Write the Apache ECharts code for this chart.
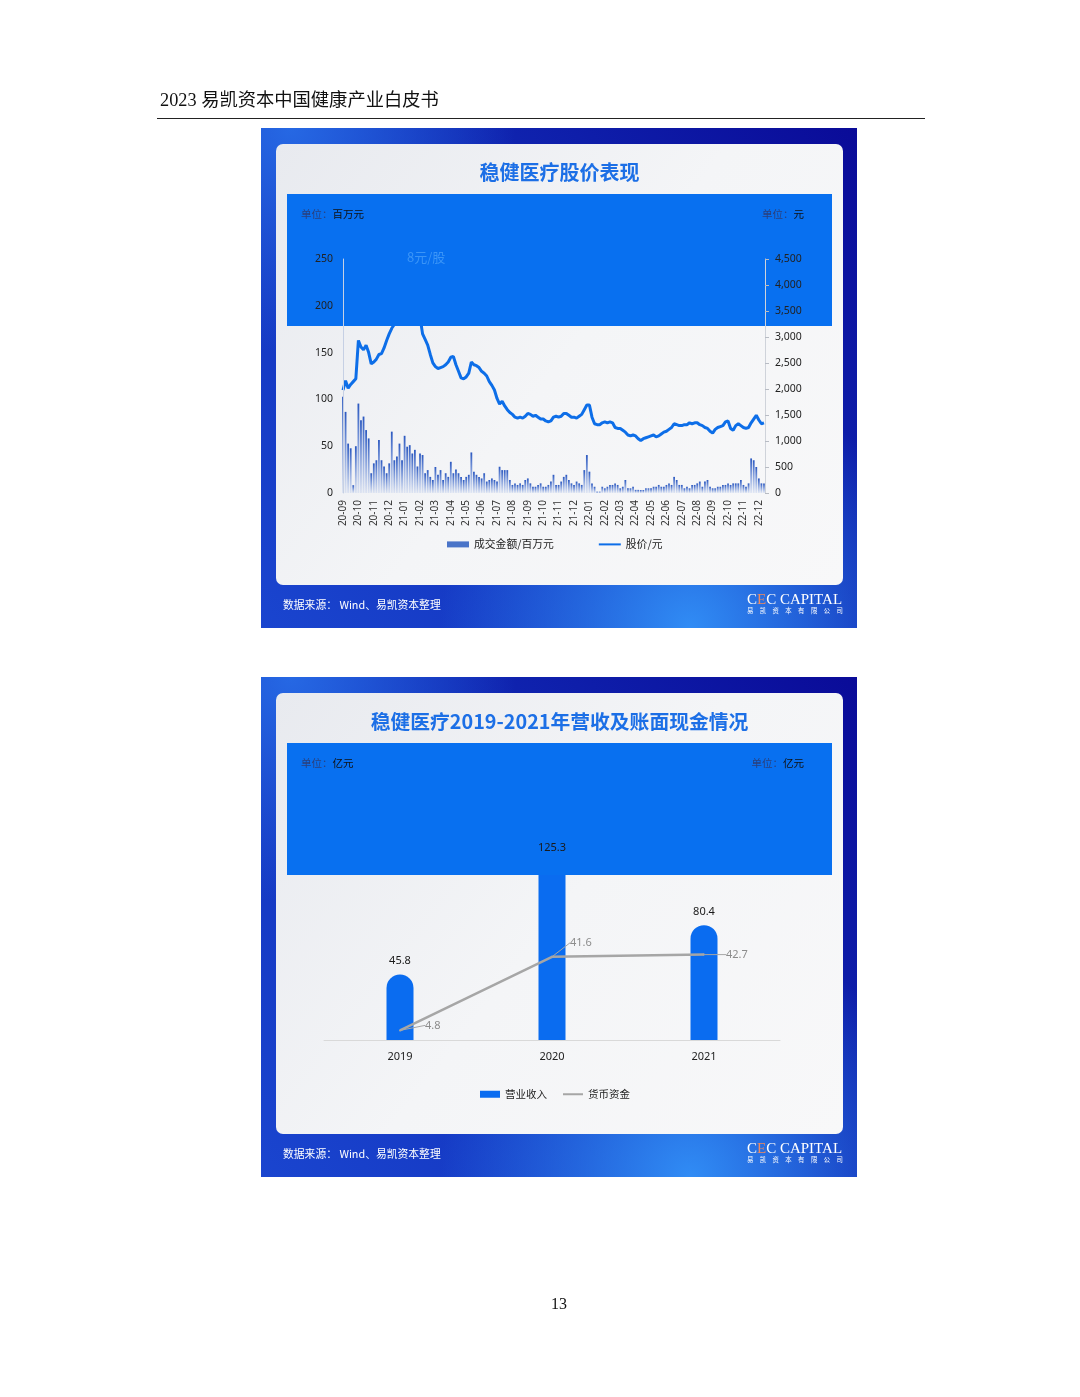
<!DOCTYPE html>
<html><head><meta charset="utf-8">
<script src="https://cdn.jsdelivr.net/npm/echarts@6/dist/echarts.min.js"></script>
<style>html,body{margin:0;padding:0;background:#fff}#c{width:1080px;height:1397px}</style>
</head><body><div id="c"></div>
<script>
// ---------- data ----------
const months = ['20-09','20-10','20-11','20-12','21-01','21-02','21-03','21-04','21-05','21-06','21-07','21-08','21-09','21-10','21-11','21-12','22-01','22-02','22-03','22-04','22-05','22-06','22-07','22-08','22-09','22-10','22-11','22-12'];
const samplesPerMonth = 6;
// 股价 (read against left axis), sampled 6 times per month from 2020-09-18
const priceValues = [110,120,112,116,119,122,163,156,153,158,
150,138,140,143,148,149,155,163,170,176,
180,186,190,195,200,205,210,214,208,200,
188,170,164,158,148,139,135,133,134,135,
137,140,145,146,137,130,123,122,124,128,
140,137,136,134,130,128,125,119,115,110,
101,95,98,93,89,86,84,81,80,81,
80,82,85,84,82,83,81,79,79,77,
76,77,81,82,81,82,85,85,83,81,
81,80,82,84,89,94,94,81,74,73,
73,75,76,75,76,75,70,69,69,67,
65,62,61,62,61,58,56,58,59,60,
61,62,60,61,63,65,66,68,70,74,
73,72,72,73,73,75,74,75,75,73,
72,70,69,66,64,68,70,71,72,76,
77,69,67,72,74,72,70,69,70,75,
79,83,78,74,75];
// 成交金额 (read against right axis)
const turnoverValues = [1850,1560,950,860,150,900,1720,1400,1470,1210,
1050,380,570,630,1020,630,510,380,570,1180,
630,700,950,630,1100,890,920,760,830,510,
760,730,380,440,310,250,500,350,440,250,
380,310,600,380,450,380,310,250,310,350,
780,410,350,310,280,380,220,250,280,250,
220,505,440,440,440,250,155,185,155,185,
155,250,280,185,120,120,155,185,120,120,
155,220,350,155,155,220,310,350,250,185,
155,220,185,155,440,730,410,185,120,25,
25,120,90,120,155,155,185,155,90,120,
250,90,90,120,60,60,58,58,90,90,
90,120,120,155,120,120,155,185,155,310,
250,155,155,90,120,90,155,155,185,220,
120,220,250,120,90,90,120,120,155,155,
185,155,185,185,185,250,155,120,185,665,
630,500,280,185,185];
const leftTicks1 = {min:0, max:250, interval:50};
const rightTicks1 = {min:0, max:4500, interval:500};

const years = ['2019','2020','2021'];
const revenue = [45.8,125.3,80.4];
const cash = [4.8,41.6,42.7];

// ---------- styles ----------
const SANS = "'Noto Sans','Noto Sans CJK SC',sans-serif";
const CJK = "'Noto Sans CJK SC','Noto Sans',sans-serif";
const RECT_BLUE = '#0870f0';
const cashLabelShift = [[20,-5],[13,-14],[17,0]];

const chart = echarts.init(document.getElementById('c'), null, {renderer:'canvas'});

function panel(top, title, titleSize, unitL, unitR) {
  const els = [];
  els.push({type:'rect', z:-10, shape:{x:261,y:top,width:596,height:500},
    style:{fill:new echarts.graphic.LinearGradient(0,1,1,0,[{offset:0,color:'#1a45cf'},{offset:0.45,color:'#1230bb'},{offset:1,color:'#0a0b98'}])}});
  els.push({type:'rect', z:-9, shape:{x:261,y:top,width:596,height:500},
    style:{fill:new echarts.graphic.RadialGradient(0.72,1.0,0.5,[{offset:0,color:'rgba(50,145,248,0.95)'},{offset:1,color:'rgba(50,145,248,0)'}])}});
  els.push({type:'rect', z:-9, shape:{x:261,y:top,width:596,height:500},
    style:{fill:new echarts.graphic.RadialGradient(0.05,0.0,0.45,[{offset:0,color:'rgba(40,110,232,0.9)'},{offset:1,color:'rgba(40,110,232,0)'}])}});
  els.push({type:'rect', z:-8, shape:{x:276,y:top+16,width:567,height:441,r:7},
    style:{fill:new echarts.graphic.LinearGradient(0,0,1,1,[{offset:0,color:'#e8eaef'},{offset:0.5,color:'#f4f5f7'},{offset:1,color:'#f8f8f9'}])}});
  els.push({type:'text', z:10, x:559.5, y:top+44, style:{text:title, fill:'#1c6fe6', fontSize:titleSize, fontWeight:'bold', fontFamily:CJK, align:'center', verticalAlign:'middle'}});
  els.push({type:'rect', z:3, shape:{x:287,y:top+66,width:545,height:132}, style:{fill:RECT_BLUE}});
  els.push({type:'text', z:10, x:301, y:top+86, style:{text:'{a|单位：}{b|'+unitL+'}', verticalAlign:'middle', rich:{a:{fill:'#2b3f7a',fontSize:10.5,fontFamily:CJK},b:{fill:'#111',fontSize:10.5,fontFamily:CJK}}}});
  els.push({type:'text', z:10, x:804, y:top+86, style:{text:'{a|单位：}{b|'+unitR+'}', align:'right', verticalAlign:'middle', rich:{a:{fill:'#2b3f7a',fontSize:10.5,fontFamily:CJK},b:{fill:'#111',fontSize:10.5,fontFamily:CJK}}}});
  els.push({type:'text', z:10, x:283, y:top+477, style:{text:'数据来源： Wind、易凯资本整理', fill:'#fff', fontSize:10.8, fontFamily:CJK, verticalAlign:'middle'}});
  els.push({type:'text', z:10, x:747, y:top+472, style:{text:'{a|C}{b|E}{a|C CAPITAL}', verticalAlign:'middle', rich:{a:{fill:'#fff',fontSize:15,fontFamily:"'Liberation Serif',serif"},b:{fill:'#f08a5d',fontSize:15,fontFamily:"'Liberation Serif',serif"}}}});
  els.push({type:'text', z:10, x:747, y:top+483, style:{text:'易　凯　资　本　有　限　公　司', fill:'#fff', fontSize:6.4, fontFamily:CJK, verticalAlign:'middle'}});
  return els;
}

const graphics = [].concat(
  panel(128, '稳健医疗股价表现', 20, '百万元', '元'),
  panel(677, '稳健医疗2019-2021年营收及账面现金情况', 19.8, '亿元', '亿元'),
  [
    {type:'text', x:160, y:101, style:{text:'2023 易凯资本中国健康产业白皮书', fill:'#111', fontSize:18.3, fontFamily:"'Liberation Serif','Noto Sans CJK SC',serif", verticalAlign:'middle'}},
    {type:'line', shape:{x1:157,y1:118.5,x2:925,y2:118.5}, style:{stroke:'#222', lineWidth:1}},
    {type:'text', x:559, y:1305, style:{text:'13', fill:'#111', fontSize:16, fontFamily:"'Liberation Serif',serif", align:'center', verticalAlign:'middle'}},
    {type:'text', z:10, x:407, y:257, style:{text:'8元/股', fill:'#3b95f7', fontSize:13, fontFamily:CJK, verticalAlign:'middle'}}
  ]
);

const option = {
  animation:false,
  textStyle:{fontFamily:SANS},
  graphic:{elements:graphics},
  grid:[
    {left:343, top:259, width:422, height:234},
    {left:324, top:840, width:456, height:200}
  ],
  legend:[
    {data:[{name:'成交金额/百万元',icon:'rect',itemStyle:{color:'#4a74c8'}},{name:'股价/元',itemStyle:{opacity:0}}], left:442, top:534, itemWidth:22, itemHeight:6, itemGap:44,
     textStyle:{fontSize:10.8,color:'#222',fontFamily:CJK}},
    {data:[{name:'营业收入',icon:'rect'},{name:'货币资金',itemStyle:{opacity:0}}], left:475, top:1084, itemWidth:20, itemHeight:7, itemGap:15,
     textStyle:{fontSize:10.5,color:'#222',fontFamily:CJK}}
  ],
  xAxis:[
    {gridIndex:0, type:'value', min:0, max:27.4, interval:1,
     axisLine:{show:false}, axisTick:{show:false}, splitLine:{show:false},
     axisLabel:{rotate:90, margin:7, fontSize:10, color:'#333',
       formatter:v => (Number.isInteger(v) && months[v]) ? months[v] : ''}},
    {gridIndex:1, type:'category', data:years,
     axisLine:{lineStyle:{color:'#d9d9d9'}}, axisTick:{show:false},
     axisLabel:{margin:11, fontSize:11, color:'#222'}}
  ],
  yAxis:[
    {gridIndex:0, type:'value', position:'left', z:10, min:leftTicks1.min, max:leftTicks1.max, interval:leftTicks1.interval,
     axisLine:{show:true, lineStyle:{color:'#c6d0e4'}}, axisTick:{show:false}, splitLine:{show:false},
     axisLabel:{margin:10, fontSize:10.5, color:'#222'}},
    {gridIndex:0, type:'value', position:'right', z:10, min:rightTicks1.min, max:rightTicks1.max, interval:rightTicks1.interval,
     axisLine:{show:true, lineStyle:{color:'#cfd3da'}}, axisTick:{show:true, length:4, lineStyle:{color:'#b8bcc4'}}, splitLine:{show:false},
     axisLabel:{margin:10, fontSize:10.5, color:'#222', formatter:v => v.toLocaleString('en-US')}},
    {gridIndex:1, type:'value', min:0, max:140, show:false},
    {gridIndex:1, type:'value', min:0, max:100, show:false, position:'right'}
  ],
  series:[
    {name:'成交金额/百万元', type:'bar', xAxisIndex:0, yAxisIndex:1, z:2,
     data:turnoverValues.map((v,i) => [i/samplesPerMonth, v]), barWidth:1.8,
     itemStyle:{color:new echarts.graphic.LinearGradient(0,0,0,1,[{offset:0,color:'#2b58c0'},{offset:1,color:'rgba(70,115,210,0.12)'}])}},
    {name:'股价/元', type:'line', xAxisIndex:0, yAxisIndex:0, z:2,
     data:priceValues.map((v,i) => [i/samplesPerMonth, v]), symbol:'none',
     itemStyle:{color:'#0d6ee8'}, lineStyle:{color:'#0d6ee8', width:3}},
    {name:'营业收入', type:'bar', xAxisIndex:1, yAxisIndex:2, z:2, data:revenue, barWidth:27, barGap:'-100%',
     itemStyle:{color:'#0a6cf0', borderRadius:[14,14,0,0]}},
    {name:'营业收入数值', type:'bar', xAxisIndex:1, yAxisIndex:2, z:5, data:revenue, barWidth:27, barGap:'-100%', silent:true,
     itemStyle:{color:'rgba(0,0,0,0)'},
     label:{show:true, position:'top', distance:8, color:'#1a1a1a', fontSize:11}},
    {name:'货币资金', type:'line', xAxisIndex:1, yAxisIndex:3, z:2, data:cash,
     symbol:'circle', symbolSize:2, showSymbol:true,
     itemStyle:{color:'#a6a6a6'}, lineStyle:{color:'#a6a6a6', width:2.5},
     label:{show:true, position:'right', distance:4, color:'#8c8c8c', fontSize:11},
     labelLayout:p => ({dx:cashLabelShift[p.dataIndex][0], dy:cashLabelShift[p.dataIndex][1]}),
     labelLine:{show:true, lineStyle:{color:'#a6a6a6', width:1}}}
  ]
};
chart.setOption(option);
</script>
</body></html>
